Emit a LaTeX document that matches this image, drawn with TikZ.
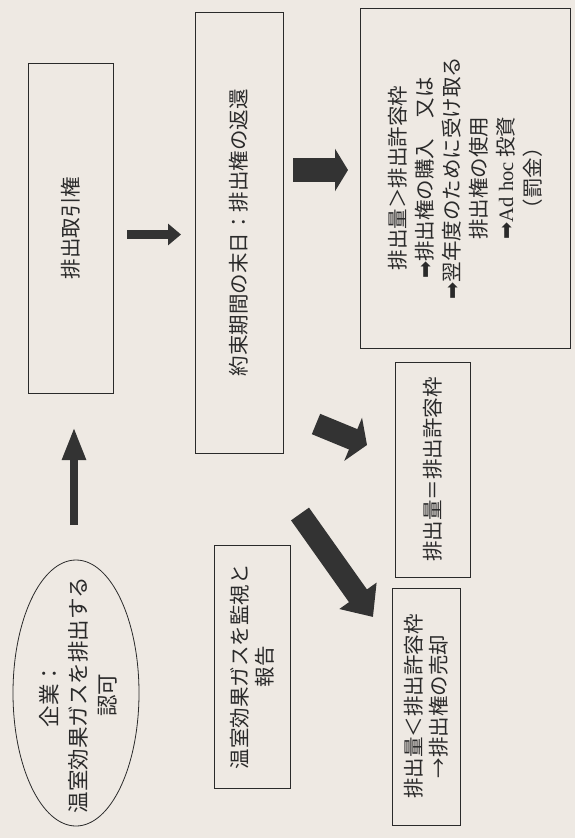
\documentclass[tikz,border=0pt]{standalone}
\usepackage{fontspec}
\setmainfont{Noto Sans CJK JP}
\newfontfamily\dejavu{DejaVu Sans}
\newfontfamily\latinserif{Liberation Serif}
\usetikzlibrary{arrows.meta,shapes.geometric}
\definecolor{paper}{HTML}{EEE9E3}
\definecolor{ink}{HTML}{2A2A2A}
\definecolor{arrowfill}{HTML}{333333}
\begin{document}
\begin{tikzpicture}[x=1pt,y=-1pt,
  txt/.style={rotate=90, align=center, text=ink, font=\fontsize{20.5}{27}\selectfont, inner sep=0pt},
  box/.style={txt, draw=ink, line width=0.8pt},
  fatarrow/.style={draw=arrowfill, line width=#1}]
\fill[paper] (0,0) rectangle (575,838);
\useasboundingbox (0,0) rectangle (575,838);

% nodes
\node[draw=ink, line width=0.8pt, ellipse, rotate=90, minimum width=266pt, minimum height=126pt, inner sep=0pt] (ell) at (76,693) {};
\node[txt, font=\fontsize{21.5}{29}\selectfont] (elltext) at (78,695) {企業：\\温室効果ガスを排出する\\認可};

\node[box, minimum width=330pt, minimum height=85pt] (trade) at (70.5,228) {排出取引権};
\node[box, minimum width=441pt, minimum height=88pt] (endday) at (239,232.5) {約束期間の末日：排出権の返還};
\node[box, minimum width=340pt, minimum height=210pt] (over) at (465,178)
  {排出量＞排出許容枠\\{\dejavu ➡}排出権の購入　又は\\{\dejavu ➡}翌年度のために受け取る\\排出権の使用\\{\dejavu ➡}{\latinserif Ad hoc} 投資\\（罰金）};
\node[box, minimum width=215pt, minimum height=75pt] (equal) at (432.5,469.5) {排出量＝排出許容枠};
\node[box, minimum width=237pt, minimum height=68pt, font=\fontsize{20.5}{25}\selectfont] (under) at (426,706.5) {排出量＜排出許容枠\\→排出権の売却};
\node[box, minimum width=243pt, minimum height=76pt, font=\fontsize{20.5}{25}\selectfont] (monitor) at (252,666.5) {温室効果ガスを監視と\\報告};

% arrow end points
\coordinate (a1s) at (74,525);   \coordinate (a1e) at (74,427);
\coordinate (a2s) at (127,234.5); \coordinate (a2e) at (181,234.5);
\coordinate (a3s) at (293,170);  \coordinate (a3e) at (348,170);
\coordinate (a4s) at (316,424);  \coordinate (a4e) at (367,445);
\coordinate (a5s) at (300,514);  \coordinate (a5e) at (373,617);

\draw[fatarrow=8pt, -{Triangle[length=33pt,width=22pt]}, arrowfill] (a1s) -- (a1e);
\draw[fatarrow=9pt, -{Triangle[length=13pt,width=21pt]}, arrowfill] (a2s) -- (a2e);
\draw[fatarrow=24pt, -{Triangle[length=13pt,width=42pt]}, arrowfill] (a3s) -- (a3e);
\draw[fatarrow=22pt, -{Triangle[length=15pt,width=46pt]}, arrowfill] (a4s) -- (a4e);
\draw[fatarrow=22pt, -{Triangle[length=26pt,width=44pt]}, arrowfill] (a5s) -- (a5e);
\end{tikzpicture}
\end{document}
